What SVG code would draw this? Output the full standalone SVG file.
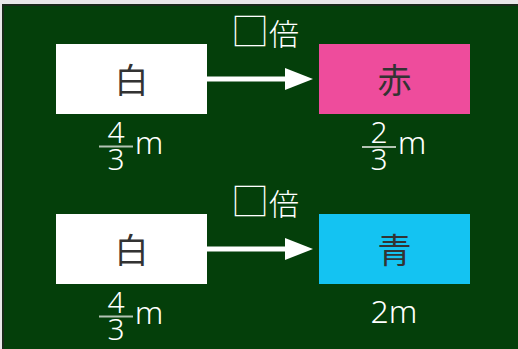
<svg xmlns="http://www.w3.org/2000/svg" width="518" height="349" viewBox="0 0 518 349">
<style>
.lbl{font-family:"Noto Sans CJK JP","Noto Sans",sans-serif;fill:#333333;font-size:34px;text-anchor:middle;dominant-baseline:central}
.w{font-family:"Noto Sans CJK JP","Noto Sans",sans-serif;fill:#ffffff;text-anchor:middle;font-weight:300}
.n{font-family:"Noto Sans","Noto Sans CJK JP",sans-serif;fill:#ffffff;text-anchor:middle;font-weight:300}
.bar{stroke:#b4c4b4;stroke-width:2}
.conn{stroke:#ffffff;stroke-width:5}
</style>
<defs>
<marker id="ah" markerUnits="userSpaceOnUse" markerWidth="28" markerHeight="22" refX="0" refY="11" orient="auto" viewBox="0 0 28 22">
<polygon points="0,0 28,11 0,22" fill="#ffffff"/>
</marker>
</defs>
<rect x="0" y="0" width="518" height="349" fill="#e8e8e8"/>
<rect x="2" y="4" width="516" height="345" fill="#1a2a1a"/>
<rect x="4" y="6" width="514" height="343" fill="#043f0a"/>
<g id="connectors">
<line class="conn" x1="207" y1="79" x2="285" y2="79" marker-end="url(#ah)"/>
<line class="conn" x1="207" y1="249" x2="285" y2="249" marker-end="url(#ah)"/>
</g>
<g id="label1"><text class="w" x="265" y="45" font-size="30"><tspan font-size="38">□</tspan>倍</text></g>
<g id="label2"><text class="w" x="265" y="215" font-size="30"><tspan font-size="38">□</tspan>倍</text></g>
<g id="white1">
<rect x="56" y="44" width="151" height="70" fill="#ffffff"/>
<text class="lbl" x="131.5" y="78">白</text>
</g>
<g id="red">
<rect x="319" y="44" width="151" height="70" fill="#ee4c9c"/>
<text class="lbl" x="394.5" y="78">赤</text>
</g>
<g id="white2">
<rect x="56" y="214" width="151" height="70" fill="#ffffff"/>
<text class="lbl" x="131.5" y="248">白</text>
</g>
<g id="blue">
<rect x="319" y="214" width="151" height="70" fill="#14c3f2"/>
<text class="lbl" x="394.5" y="248">青</text>
</g>
<g id="len1">
<text class="n" x="116" y="143" font-size="30">4</text>
<line class="bar" x1="99" y1="146.5" x2="133" y2="146.5"/>
<text class="n" x="116" y="170" font-size="30">3</text>
<text class="n" x="149" y="154" font-size="32">m</text>
</g>
<g id="len2">
<text class="n" x="379" y="143" font-size="30">2</text>
<line class="bar" x1="362" y1="147" x2="396" y2="147"/>
<text class="n" x="379" y="170" font-size="30">3</text>
<text class="n" x="412" y="154" font-size="32">m</text>
</g>
<g id="len3">
<text class="n" x="116" y="313" font-size="30">4</text>
<line class="bar" x1="99" y1="316.5" x2="133" y2="316.5"/>
<text class="n" x="116" y="340" font-size="30">3</text>
<text class="n" x="149" y="324" font-size="32">m</text>
</g>
<g id="len4">
<text class="n" x="394" y="323" font-size="32">2m</text>
</g>
</svg>
